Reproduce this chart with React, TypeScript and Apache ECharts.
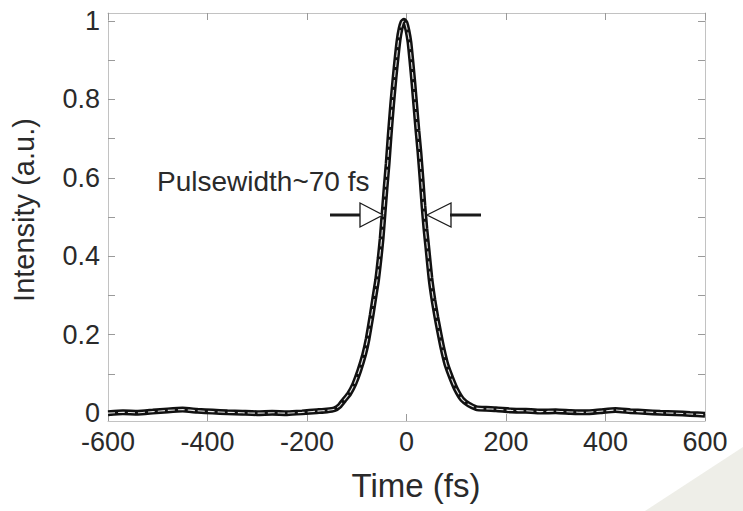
import { useEffect, useRef } from 'react';
import * as echarts from 'echarts';

// Autocorrelation trace
const timeFs = [
  -600, -570, -540, -510, -480, -450, -420, -390, -360, -330, -300, -270, -240, -210,
  -180, -160, -145, -135, -125, -115, -105, -95, -85, -78, -70, -64, -59, -54, -50,
  -46, -42, -38, -34, -29, -24, -20, -16, -12, -8, -5, -2, 2, 6, 10, 14, 18, 22, 26,
  30, 34, 38, 42, 48, 54, 60, 66, 72, 80, 90, 100, 112, 125, 140, 160, 180, 210, 240,
  270, 300, 330, 360, 390, 420, 450, 480, 510, 540, 570, 600,
];
const intensity = [
  0.0, 0.002, 0.001, 0.004, 0.007, 0.009, 0.006, 0.004, 0.002, 0.001, 0.0, 0.001, 0.0, 0.002,
  0.005, 0.007, 0.01, 0.018, 0.034, 0.05, 0.074, 0.108, 0.15, 0.19, 0.25, 0.3, 0.34, 0.395, 0.445,
  0.51, 0.575, 0.635, 0.705, 0.785, 0.855, 0.905, 0.95, 0.98, 0.997, 1.0, 0.995, 0.975, 0.945, 0.895, 0.84, 0.78, 0.72, 0.665,
  0.6, 0.53, 0.47, 0.421, 0.345, 0.29, 0.245, 0.205, 0.167, 0.125, 0.09, 0.06, 0.035, 0.022, 0.013, 0.011, 0.01, 0.007, 0.006,
  0.004, 0.005, 0.003, 0.002, 0.005, 0.008, 0.005, 0.003, 0.001, 0.0, -0.002, -0.004,
];

const xTickValues = [-600, -400, -200, 0, 200, 400, 600];
const yLabelValues = [0, 0.2, 0.4, 0.6, 0.8, 1];
const yTickValues = [0, 0.1, 0.2, 0.3, 0.4, 0.5, 0.6, 0.7, 0.8, 0.9, 1];
const xTitle = 'Time (fs)';
const yTitle = 'Intensity (a.u.)';
const annotationText = 'Pulsewidth~70 fs';

const FONT = 'Liberation Sans';
const TEXT = '#2a2a2a';
const AXIS = '#c2c2c2';
const TICK = '#9a9a9a';

export default function App() {
  const ref = useRef<HTMLDivElement>(null);

  useEffect(() => {
    document.body.style.margin = '0';
    const chart = echarts.init(ref.current!, null, { renderer: 'svg' });
    const data = timeFs.map((t, i) => [t, intensity[i]]);

    const tickCommon = { show: true, inside: true, length: 7, lineStyle: { color: TICK, width: 1 } };
    const xBase = {
      type: 'value' as const,
      min: xTickValues[0],
      max: xTickValues[xTickValues.length - 1],
      interval: 200,
      splitLine: { show: false },
      axisLine: { show: true, onZero: false, lineStyle: { color: AXIS, width: 1 } },
      axisTick: tickCommon,
    };
    const yBase = {
      type: 'value' as const,
      min: -0.02,
      max: 1.02,
      splitLine: { show: false },
      axisLine: { show: true, onZero: false, lineStyle: { color: AXIS, width: 1 } },
      axisTick: { ...tickCommon, customValues: yTickValues },
    };

    chart.setOption({
      animation: false,
      backgroundColor: '#ffffff',
      grid: { left: 108, right: 38, top: 13, bottom: 90, containLabel: false },
      xAxis: [
        {
          ...xBase,
          position: 'bottom',
          axisLabel: { margin: 7, fontFamily: FONT, fontSize: 27, color: TEXT },
          name: xTitle,
          nameLocation: 'middle',
          nameGap: 48,
          nameTextStyle: { fontFamily: FONT, fontSize: 33, color: TEXT, padding: [0, 0, 0, 19] },
        },
        { ...xBase, position: 'top', axisLabel: { show: false } },
      ],
      yAxis: [
        {
          ...yBase,
          position: 'left',
          axisLabel: { customValues: yLabelValues, margin: 8, fontFamily: FONT, fontSize: 27, color: TEXT },
          name: yTitle,
          nameLocation: 'middle',
          nameRotate: 90,
          nameGap: 70,
          nameTextStyle: { fontFamily: FONT, fontSize: 29, color: TEXT, padding: [0, 0, 0, 14] },
        },
        { ...yBase, position: 'right', axisLabel: { show: false } },
      ],
      series: [
        {
          name: 'trace',
          type: 'line',
          data,
          showSymbol: false,
          smooth: 0.15,
          lineStyle: { color: '#111111', width: 6 },
          z: 3,
        },
        {
          name: 'trace core',
          type: 'line',
          data,
          showSymbol: false,
          smooth: 0.15,
          lineStyle: { color: '#e4e4e4', width: 1.1, type: [7, 3] },
          z: 4,
        },
      ],
      graphic: [
        {
          type: 'polygon',
          shape: { points: [[645, 511], [743, 447], [743, 511]] },
          style: { fill: '#eeeee8' },
          z: -1,
          silent: true,
        },
        {
          type: 'text',
          x: 157,
          y: 181,
          style: { text: annotationText, font: `28px "${FONT}"`, fill: TEXT, verticalAlign: 'middle', align: 'left' },
        },
        {
          type: 'line',
          shape: { x1: 330, y1: 215, x2: 361, y2: 215 },
          style: { stroke: '#1a1a1a', lineWidth: 3 },
          z: 10,
        },
        {
          type: 'polygon',
          shape: { points: [[360, 203], [383, 215], [360, 227]] },
          style: { fill: '#ffffff', stroke: '#1a1a1a', lineWidth: 1.3 },
          z: 10,
        },
        {
          type: 'polygon',
          shape: { points: [[427, 215], [451, 203], [451, 227]] },
          style: { fill: '#ffffff', stroke: '#1a1a1a', lineWidth: 1.3 },
          z: 10,
        },
        {
          type: 'line',
          shape: { x1: 450, y1: 215, x2: 481, y2: 215 },
          style: { stroke: '#1a1a1a', lineWidth: 3 },
          z: 10,
        },
      ],
    });

    return () => chart.dispose();
  }, []);

  return <div ref={ref} style={{ width: 743, height: 511 }} />;
}
